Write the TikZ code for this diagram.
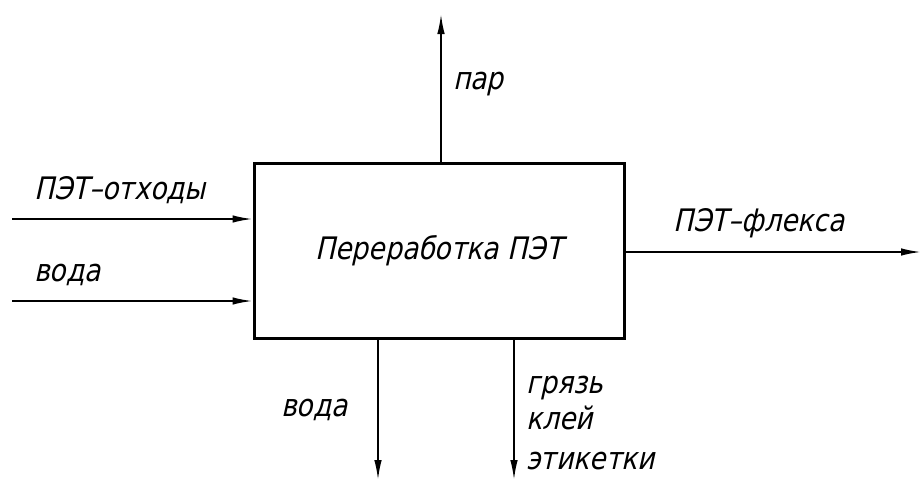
\documentclass[tikz,border=0pt]{standalone}
\usepackage{fontspec}
\newfontfamily\gost[FakeSlant=0.22,FakeStretch=0.86]{DejaVu Sans}
\usetikzlibrary{arrows.meta}
\tikzset{
  procbox/.style={draw, line width=3pt, minimum width=370pt, minimum height=175pt, inner sep=0pt,
    font=\gost\fontsize{31}{37}\selectfont},
  flow/.style={line width=1.8pt, -{Latex[length=20pt,width=7.5pt]}},
  lbl/.style={inner sep=0pt, font=\gost\fontsize{31}{37}\selectfont}
}
\begin{document}
\begin{tikzpicture}[x=1pt,y=-1pt]
\useasboundingbox[fill=white] (0,0) rectangle (922,482);
\node[procbox] (box) at (439,250.5) {Переработка ПЭТ};
% free ends
\coordinate (in1) at (12,219);
\coordinate (in2) at (12,301);
\coordinate (out1) at (921,252);
\coordinate (up) at (441,14);
\coordinate (dn1) at (378,480);
\coordinate (dn2) at (514,480);
% connectors
\draw[flow] (in1) -- (in1 -| box.west);
\draw[flow] (in2) -- (in2 -| box.west);
\draw[flow] (out1 -| box.east) -- (out1);
\draw[flow] (up |- box.north) -- (up);
\draw[flow] (dn1 |- box.south) -- (dn1);
\draw[flow] (dn2 |- box.south) -- (dn2);
% labels
\node[lbl, anchor=base west] (l1) at (34,199) {ПЭТ–отходы};
\node[lbl, anchor=base west] (l2) at (34,281) {вода};
\node[lbl, anchor=base west] (l3) at (453,89) {пар};
\node[lbl, anchor=base west] (l4) at (673,231) {ПЭТ–флекса};
\node[lbl, anchor=base west] (l5) at (281,416) {вода};
\node[lbl, anchor=base west] (l6) at (526,393) {грязь};
\node[lbl, anchor=base west] (l7) at (526,429) {клей};
\node[lbl, anchor=base west] (l8) at (526,469) {этикетки};
\end{tikzpicture}
\end{document}
